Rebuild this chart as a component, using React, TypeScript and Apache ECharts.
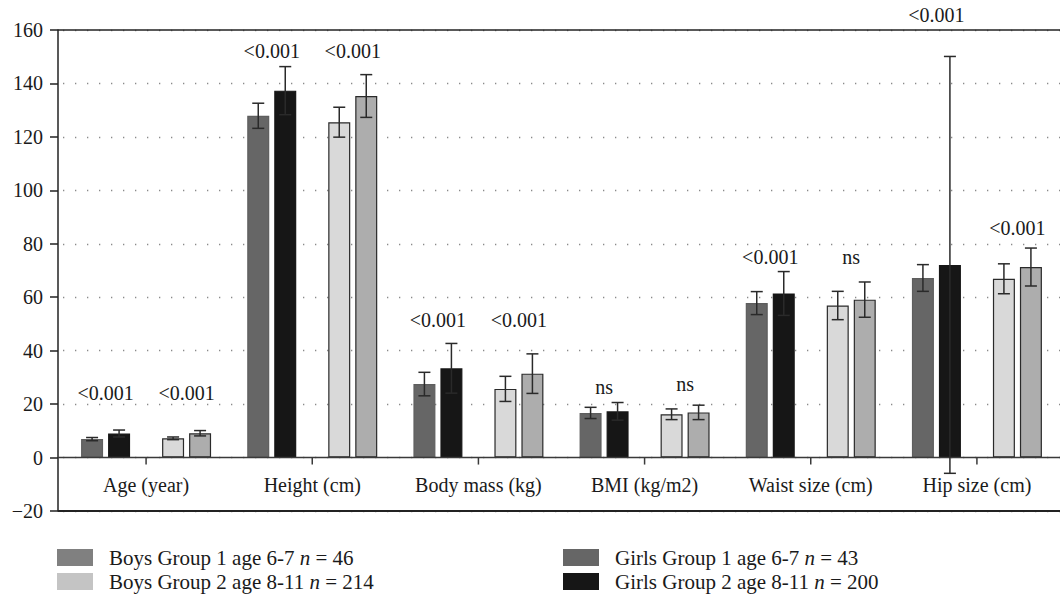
import React, { useEffect, useRef } from "react";
import * as echarts from "echarts";

const categories = ["Age (year)", "Height (cm)", "Body mass (kg)", "BMI (kg/m2)", "Waist size (cm)", "Hip size (cm)"];

const seriesNames = ["Girls Group 1 age 6-7", "Girls Group 2 age 8-11", "Boys Group 1 age 6-7", "Boys Group 2 age 8-11"];
const sampleSizes = [43, 200, 46, 214];

const girls1Mean = [6.9, 127.9, 27.5, 16.7, 57.8, 67.2];
const girls1Err = [0.6, 4.7, 4.4, 2.1, 4.3, 5.0];
const girls2Mean = [9.0, 137.3, 33.4, 17.3, 61.4, 72.1];
const girls2Err = [1.3, 9.0, 9.3, 3.3, 8.2, 78.0];
const boys1Mean = [7.2, 125.5, 25.7, 16.2, 56.9, 66.9];
const boys1Err = [0.5, 5.6, 4.7, 2.0, 5.3, 5.6];
const boys2Mean = [9.1, 135.3, 31.4, 16.9, 59.1, 71.3];
const boys2Err = [1.0, 8.0, 7.4, 2.7, 6.6, 7.1];

const pLabelsGirls = ["<0.001", "<0.001", "<0.001", "ns", "<0.001", "<0.001"];
const pYGirls = [24, 152, 51.5, 26.5, 75, 165.5];
const pLabelsBoys = ["<0.001", "<0.001", "<0.001", "ns", "ns", "<0.001"];
const pYBoys = [24, 152, 51.5, 27.7, 75, 86];

const yMin = -20;
const yMax = 160;
const yInterval = 20;

const FONT = "Liberation Serif";
const BAR_W = 22;
const BAR_GAP_PX = 5;
const PITCH = BAR_W + BAR_GAP_PX;

export default function App() {
  const ref = useRef<HTMLDivElement>(null);
  useEffect(() => {
    if (!ref.current) return;
    const chart = echarts.init(ref.current, undefined, { renderer: "svg" });

    const means = [girls1Mean, girls2Mean, boys1Mean, boys2Mean];
    const errs = [girls1Err, girls2Err, boys1Err, boys2Err];
    const barColors = ["#666666", "#161616", "#d9d9d9", "#adadad"];
    const barBorders = ["#5e5e5e", "#161616", "#2a2a2a", "#2a2a2a"];
    const legendColors = ["#666666", "#161616", "#808080", "#c4c4c4"];
    const slots = [0, 1, 3, 4];

    const barSeries: any[] = [];
    means.forEach((m, i) => {
      if (i === 2) {
        barSeries.push({
          type: "bar",
          name: "__spacer",
          data: categories.map(() => null),
          barWidth: BAR_W,
          barGap: (BAR_GAP_PX / BAR_W) * 100 + "%",
          silent: true,
        });
      }
      barSeries.push({
        type: "bar",
        name: seriesNames[i],
        data: m,
        barWidth: BAR_W,
        barGap: (BAR_GAP_PX / BAR_W) * 100 + "%",
        itemStyle: { color: barColors[i], borderColor: barBorders[i], borderWidth: 1.2 },
      });
    });

    const errSeries = means.map((m, i) => {
      const offset = (slots[i] - 2) * PITCH;
      return {
        type: "custom",
        name: "err" + i,
        data: m.map((v, k) => [k, v, errs[i][k]]),
        encode: { x: 0, y: 1 },
        clip: false,
        z: 5,
        renderItem: (params: any, api: any) => {
          const cx = api.value(0);
          const v = api.value(1);
          const e = api.value(2);
          const x = api.coord([cx, v])[0] + offset;
          const yHi = api.coord([cx, v + e])[1];
          const yLo = api.coord([cx, v - e])[1];
          const st = { stroke: "#2a2a2a", lineWidth: 1.5 };
          return {
            type: "group",
            children: [
              { type: "line", shape: { x1: x, y1: yHi, x2: x, y2: yLo }, style: st },
              { type: "line", shape: { x1: x - 6, y1: yHi, x2: x + 6, y2: yHi }, style: st },
              { type: "line", shape: { x1: x - 6, y1: yLo, x2: x + 6, y2: yLo }, style: st },
            ],
          };
        },
      };
    });

    // frame lines (top / zero / bottom) and category ticks on the zero line
    const frameSeries = {
      type: "custom",
      name: "frame",
      data: categories.map((c, k) => [k, 0]),
      encode: { x: 0, y: 1 },
      clip: false,
      z: 4,
      silent: true,
      renderItem: (params: any, api: any) => {
        const k = api.value(0);
        const cs = params.coordSys;
        const p0 = api.coord([k, 0]);
        const children: any[] = [
          { type: "line", shape: { x1: p0[0], y1: p0[1], x2: p0[0], y2: p0[1] + 7 }, style: { stroke: "#3a3a3a", lineWidth: 1.5 } },
        ];
        if (k === 0) {
          const xL = cs.x - 5;
          const xR = cs.x + cs.width + 20;
          const yTop = api.coord([0, yMax])[1];
          const yBot = api.coord([0, yMin])[1];
          children.push(
            { type: "line", shape: { x1: xL, y1: yTop, x2: xR, y2: yTop }, style: { stroke: "#222", lineWidth: 1.5 } },
            { type: "line", shape: { x1: xL, y1: p0[1], x2: xR, y2: p0[1] }, style: { stroke: "#3a3a3a", lineWidth: 1.5 } },
            { type: "line", shape: { x1: xL, y1: yBot, x2: xR, y2: yBot }, style: { stroke: "#222", lineWidth: 1.8 } }
          );
        }
        return { type: "group", children };
      },
    };

    const mkLabelSeries = (labels: string[], ys: number[], pairOffset: number) => ({
      type: "custom",
      name: "plabel" + pairOffset,
      data: labels.map((t, k) => [k, ys[k]]),
      encode: { x: 0, y: 1 },
      clip: false,
      z: 6,
      renderItem: (params: any, api: any) => {
        const k = api.value(0);
        const pt = api.coord([k, api.value(1)]);
        return {
          type: "text",
          x: pt[0] + pairOffset,
          y: pt[1],
          style: {
            text: labels[k],
            fontFamily: FONT,
            fontSize: 20,
            fill: "#1a1a1a",
            align: "center",
            verticalAlign: "middle",
          },
        };
      },
    });

    const legendFormatter = (name: string) => {
      const idx = seriesNames.indexOf(name);
      return `{t|${name} }{i|n}{t| = ${sampleSizes[idx]}}`;
    };
    const legendText = {
      fontFamily: FONT,
      fontSize: 21,
      color: "#1a1a1a",
      padding: [0, 0, 0, 11],
      rich: {
        t: { fontFamily: FONT, fontSize: 21, color: "#1a1a1a" },
        i: { fontFamily: FONT, fontSize: 21, fontStyle: "italic", color: "#1a1a1a" },
      },
    };
    const legendCommon = {
      orient: "vertical",
      top: 547,
      padding: 0,
      icon: "rect",
      itemWidth: 36,
      itemHeight: 17,
      itemGap: 3,
      selectedMode: false,
      formatter: legendFormatter,
      textStyle: legendText,
    };

    chart.setOption({
      animation: false,
      textStyle: { fontFamily: FONT },
      grid: {
        left: 63,
        right: -9,
        top: 30,
        bottom: 88,
        show: false,
      },
      legend: [
        {
          ...legendCommon,
          left: 57,
          data: [
            { name: seriesNames[2], itemStyle: { color: legendColors[2], borderWidth: 0 } },
            { name: seriesNames[3], itemStyle: { color: legendColors[3], borderWidth: 0 } },
          ],
        },
        {
          ...legendCommon,
          left: 563,
          data: [
            { name: seriesNames[0], itemStyle: { color: legendColors[0], borderWidth: 0 } },
            { name: seriesNames[1], itemStyle: { color: legendColors[1], borderWidth: 0 } },
          ],
        },
      ],
      xAxis: {
        type: "category",
        data: categories,
        axisLine: { show: false, onZero: false },
        axisTick: { show: false },
        axisLabel: { fontFamily: FONT, fontSize: 20, color: "#1a1a1a", margin: -36 },
        splitLine: { show: false },
      },
      yAxis: {
        type: "value",
        min: yMin,
        max: yMax,
        interval: yInterval,
        offset: 5,
        axisLine: { show: true, lineStyle: { color: "#222", width: 1.5 } },
        axisTick: { show: true, length: 8, lineStyle: { color: "#222", width: 1.5 } },
        axisLabel: {
          fontFamily: FONT,
          fontSize: 20,
          color: "#1a1a1a",
          margin: 15,
          formatter: (v: number) => (v < 0 ? "\u2212" + Math.abs(v) : String(v)),
        },
        splitLine: { show: true, lineStyle: { color: "#8a8a8a", width: 1.3, type: [1.3, 10.7] } },
      },
      series: [
        ...barSeries,
        frameSeries,
        ...errSeries,
        mkLabelSeries(pLabelsGirls, pYGirls, -1.5 * PITCH),
        mkLabelSeries(pLabelsBoys, pYBoys, 1.5 * PITCH),
      ],
    });
    return () => chart.dispose();
  }, []);
  return <div ref={ref} style={{ position: "absolute", left: 0, top: 0, width: 1060, height: 599 }} />;
}
